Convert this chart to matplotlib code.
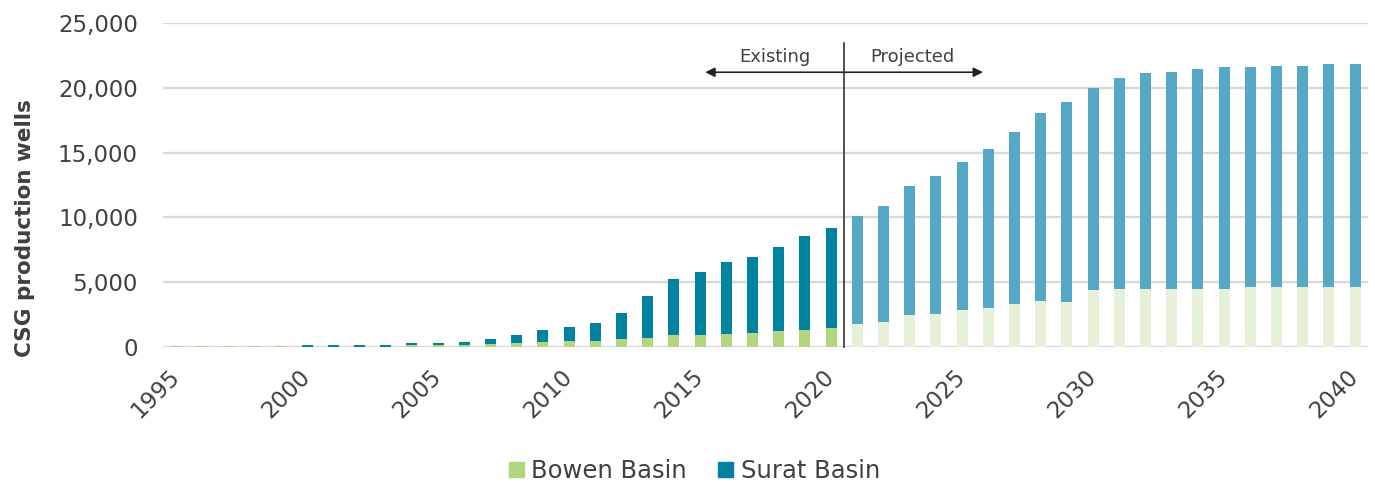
import numpy as np
import matplotlib.pyplot as plt
from matplotlib.patches import Patch

years = list(range(1995, 2041))

bowen = [70, 70, 70, 70, 70,
         30, 30, 30, 30,
         130, 130, 150, 260, 340, 370, 460, 460, 590, 720, 900, 900,
         1000, 1110, 1240, 1340, 1470,
         1800, 1900, 2440, 2540, 2880, 2980, 3310, 3520, 3500, 4390,
         4490, 4500, 4500, 4500, 4500, 4600, 4600, 4600, 4600, 4600]

surat = [0, 0, 0, 0, 0,
         120, 120, 120, 120,
         160, 160, 230, 340, 570, 970, 1090, 1420, 2040, 3200, 4330, 4870,
         5550, 5850, 6470, 7240, 7730,
         8300, 8950, 10010, 10660, 11400, 12270, 13250, 14530, 15400, 15610,
         16230, 16650, 16750, 16950, 17100, 17000, 17100, 17100, 17200, 17200]

last_actual = 2020
tick_years = [1995, 2000, 2005, 2010, 2015, 2020, 2025, 2030, 2035, 2040]

BOWEN = '#b1d67d'
SURAT = '#0083a1'
BOWEN_PROJ = '#e7f0d9'
SURAT_PROJ = '#55a9c6'
TXT = '#404040'

plt.rcParams['font.family'] = ['DejaVu Sans']

fig = plt.figure(figsize=(13.75, 4.84), dpi=100)
ax = fig.add_axes([0.1185, 0.283, 0.8765, 0.6695])

yrs = np.array(years)
bw = np.array(bowen)
su = np.array(surat)
proj = yrs > last_actual

bcol = [BOWEN_PROJ if p else BOWEN for p in proj]
scol = [SURAT_PROJ if p else SURAT for p in proj]

ax.bar(yrs, bw, width=0.42, color=bcol, zorder=3)
ax.bar(yrs, su, width=0.42, bottom=bw, color=scol, zorder=3)

ax.set_xlim(1994.5, 2040.5)
ax.set_ylim(0, 25000)
ax.set_yticks(range(0, 25001, 5000))
ax.set_yticklabels(['{:,}'.format(v) for v in range(0, 25001, 5000)])
ax.set_xticks(tick_years)
ax.set_xticklabels([str(y) for y in tick_years], rotation=45, ha='right',
                   va='center', rotation_mode='anchor')

ax.grid(axis='y', color='#d9d9d9', linewidth=1.7, zorder=0)
for s in ax.spines.values():
    s.set_visible(False)
ax.tick_params(axis='y', length=0, pad=18, labelsize=16.5, labelcolor=TXT)
ax.tick_params(axis='x', length=0, pad=19, labelsize=16.5, labelcolor=TXT)

ax.set_ylabel('CSG production wells', fontsize=15.5, fontweight='bold', color=TXT)
ax.yaxis.set_label_coords(-0.106, 0.367)

# divider between actual and projected counts
split = last_actual + 0.5
ax.plot([split, split], [0, 23450], color='#333333', linewidth=1.2, zorder=4,
        clip_on=False)
ax.annotate('', xy=(2015.2, 21200), xytext=(split, 21200),
            arrowprops=dict(arrowstyle='-|>', color='#222222', lw=1.2,
                            mutation_scale=14, shrinkA=0, shrinkB=0))
ax.annotate('', xy=(2025.8, 21200), xytext=(split, 21200),
            arrowprops=dict(arrowstyle='-|>', color='#222222', lw=1.2,
                            mutation_scale=14, shrinkA=0, shrinkB=0))
ax.text(2017.85, 22350, 'Existing', ha='center', va='center', fontsize=13,
        color=TXT)
ax.text(2023.1, 22350, 'Projected', ha='center', va='center', fontsize=13,
        color=TXT)

handles = [Patch(color=BOWEN, label='Bowen Basin'),
           Patch(color=SURAT, label='Surat Basin')]
leg = fig.legend(handles=handles, loc='center', bbox_to_anchor=(0.505, 0.027),
                 ncol=2, frameon=False, fontsize=17.5, handlelength=0.62,
                 handleheight=0.62, handletextpad=0.3, columnspacing=1.3,
                 borderaxespad=0)
for t in leg.get_texts():
    t.set_color(TXT)

fig.savefig('out.png', dpi=100)
